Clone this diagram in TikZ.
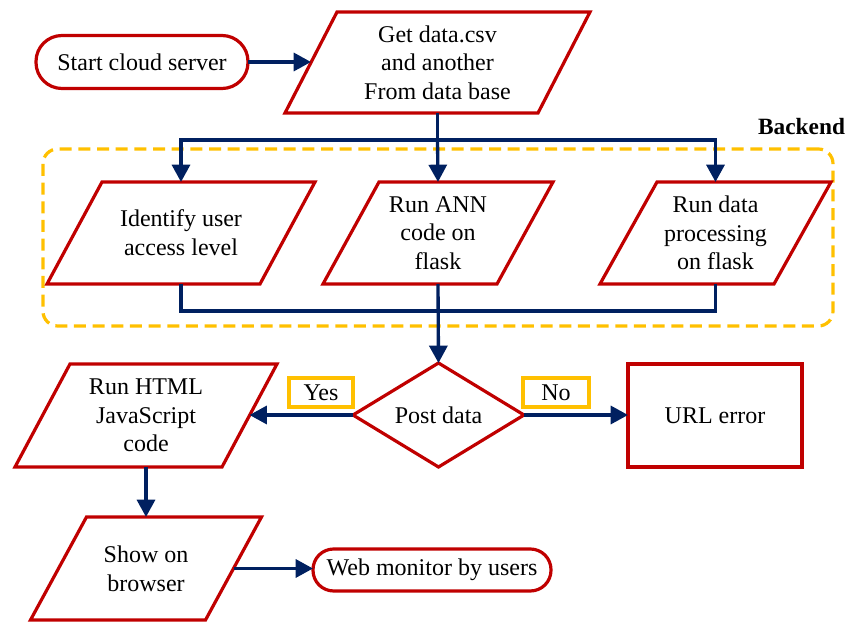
\documentclass[tikz,border=0pt]{standalone}
\usepackage{fontspec}
\setmainfont{Liberation Serif}
\usetikzlibrary{arrows.meta,shapes.geometric,calc}

\definecolor{frameRed}{HTML}{C00000}
\definecolor{linkBlue}{HTML}{002060}
\definecolor{tagGold}{HTML}{FFC000}

\tikzset{
  txt/.style={font=\fontsize{18pt}{21.5pt}\selectfont, align=center,
              inner sep=0pt, outer sep=0pt, text=black},
  redline/.style={draw=frameRed, line width=2.4pt, line join=miter},
  slantbox/.style={txt},
  roundbox/.style={txt, redline, rounded corners=#1},
  plainbox/.style={txt, redline},
  decision/.style={txt, redline, diamond, aspect=1.64},
  tag/.style={txt, draw=tagGold, line width=2.4pt},
  groupframe/.style={draw=tagGold, line width=2.4pt, dash pattern=on 9pt off 5pt,
                     rounded corners=11pt, inner sep=0pt},
  link/.style={draw=linkBlue, line width=2.5pt},
  arrowlink/.style={link, -{Triangle[length=13pt,width=13.5pt]}},
}

% outline of a slanted (parallelogram) box drawn around a node
\newcommand\slantframe[2]{%
  \draw[redline] (#1.south west) -- ([xshift=#2]#1.north west) --
    (#1.north east) -- ([xshift=-#2]#1.south east) -- cycle;}

\begin{document}
\begin{tikzpicture}[x=0.75pt, y=-0.75pt]
\useasboundingbox (0,0) rectangle (851,623);

% backend group
\node[groupframe, minimum width=592.5pt, minimum height=132.75pt] (backendbox) at (438,237.5) {};
\node[txt, font=\fontsize{17.5pt}{19pt}\selectfont\bfseries, anchor=east] (backendlbl) at (845,127) {Backend};

% top row
\node[roundbox=19.5pt, minimum width=159pt, minimum height=39.75pt] (start) at (142,62) {Start cloud server};
\node[slantbox, minimum width=228.75pt, minimum height=75.75pt] (get) at (437.5,62.5)
  {Get data.csv\\and another\\From data base};
\slantframe{get}{39pt}

% backend row
\node[slantbox, minimum width=201pt, minimum height=76.5pt] (ident) at (181,233)
  {Identify user\\access level};
\slantframe{ident}{41.25pt}
\node[slantbox, minimum width=172.5pt, minimum height=76.5pt] (ann) at (438,233)
  {Run ANN\\code on\\flask};
\slantframe{ann}{42pt}
\node[slantbox, minimum width=173.25pt, minimum height=76.5pt] (proc) at (715.5,233)
  {Run data\\processing\\on flask};
\slantframe{proc}{42.75pt}

% decision row
\node[decision, minimum width=128.25pt, minimum height=78pt] (post) at (438.5,415) {Post data};
\node[slantbox, minimum width=196.5pt, minimum height=77.25pt] (html) at (146,415.5)
  {Run HTML\\JavaScript\\code};
\slantframe{html}{41.25pt}
\node[plainbox, minimum width=130.5pt, minimum height=77.25pt] (url) at (715,415.5) {URL error};
\node[tag, minimum width=48pt, minimum height=21.75pt] (yes) at (321,392.5) {Yes};
\node[tag, minimum width=49.5pt, minimum height=21.75pt] (no) at (556,392.5) {No};

% bottom row
\node[slantbox, minimum width=173.25pt, minimum height=77.25pt] (show) at (146,568.5)
  {Show on\\browser};
\slantframe{show}{42pt}
\node[roundbox=15.5pt, minimum width=178.5pt, minimum height=31.5pt] (web) at (432,570)
  {Web monitor by users};

% edge midpoints of the slanted boxes and bus junctions
\coordinate (getL) at ($(get.west)+(19.5pt,0)$);
\coordinate (htmlR) at ($(html.east)+(-20.6pt,0)$);
\coordinate (showR) at ($(show.east)+(-21pt,0)$);
\coordinate (busTop) at (437.5,140);
\coordinate (busBot) at (438,311);

% connectors
\draw[arrowlink] (start.east) -- (getL |- start.east);
\draw[link] (get.south) -- (busTop);
\draw[arrowlink] (busTop) -| (ident.north);
\draw[arrowlink] (busTop) -- (ann.north);
\draw[arrowlink] (busTop) -| (proc.north);
\draw[link] (ident.south) |- (busBot);
\draw[link] (proc.south) |- (busBot);
\draw[arrowlink] (ann.south) -- (post.north);
\draw[arrowlink] (post.west) -- (htmlR |- post.west);
\draw[arrowlink] (post.east) -- (url.west |- post.east);
\draw[arrowlink] (html.south) -- (show.north);
\draw[arrowlink] (showR) -- (web.west |- showR);
\end{tikzpicture}
\end{document}
